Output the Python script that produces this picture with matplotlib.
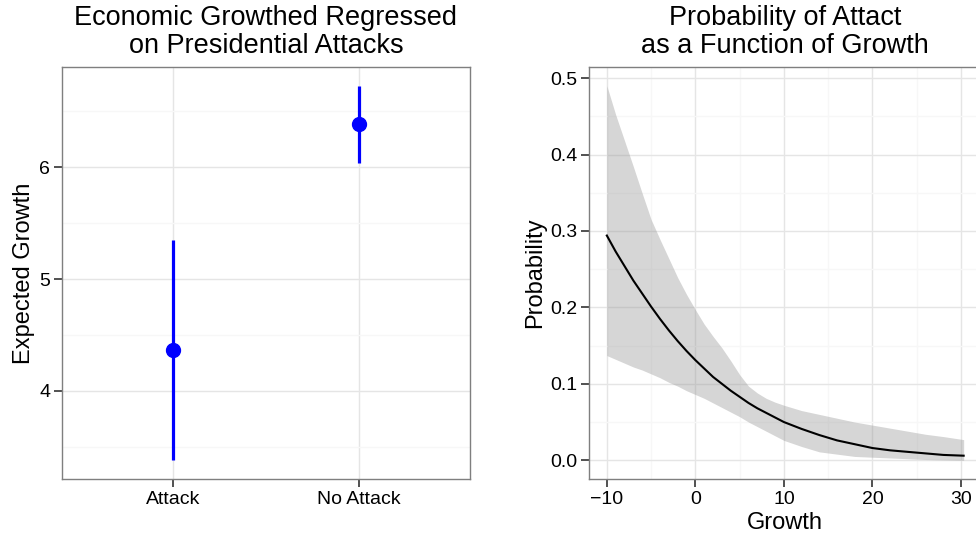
import matplotlib
matplotlib.use("Agg")
import matplotlib.pyplot as plt
from matplotlib.ticker import MultipleLocator, FixedLocator

plt.rcParams['font.family'] = ['Liberation Sans', 'DejaVu Sans']

# left panel: expected growth by attack status
groups = ["Attack", "No Attack"]
growth_mean = [4.37, 6.39]
growth_lo = [3.38, 6.04]
growth_hi = [5.35, 6.73]

# right panel: predicted probability of attack over growth
growth = [-10, -9, -8, -7, -6, -5, -4, -3, -2, -1, 0, 1, 2, 3, 4, 5, 6, 7, 8, 9, 10,
          12, 14, 16, 18, 20, 22, 24, 26, 28, 30.3]
prob = [0.294, 0.273, 0.254, 0.235, 0.218, 0.201, 0.185, 0.170, 0.156, 0.143,
        0.131, 0.120, 0.109, 0.100, 0.091, 0.083, 0.075, 0.068, 0.062, 0.056,
        0.050, 0.041, 0.033, 0.026, 0.021, 0.016, 0.013, 0.011, 0.009, 0.007, 0.006]
prob_lo = [0.137, 0.132, 0.127, 0.122, 0.118, 0.113, 0.108, 0.102, 0.097, 0.091,
           0.086, 0.081, 0.075, 0.069, 0.063, 0.057, 0.050, 0.044, 0.038, 0.032,
           0.026, 0.018, 0.011, 0.008, 0.005, 0.004, 0.003, 0.002, 0.001, 0.0005, 0.000]
prob_hi = [0.490, 0.452, 0.418, 0.384, 0.349, 0.315, 0.289, 0.264, 0.239, 0.217,
           0.197, 0.178, 0.162, 0.147, 0.130, 0.112, 0.097, 0.088, 0.081, 0.076,
           0.072, 0.065, 0.060, 0.055, 0.050, 0.046, 0.042, 0.038, 0.034, 0.031, 0.027]

W, H = 976, 539
fig = plt.figure(figsize=(W / 100, H / 100), dpi=100)

def px_axes(x0, x1, y0, y1):
    return fig.add_axes([x0 / W, 1 - y1 / H, (x1 - x0) / W, (y1 - y0) / H])

def bw_style(ax):
    ax.set_facecolor("white")
    for s in ax.spines.values():
        s.set_color("#7f7f7f")
        s.set_linewidth(1.0)
    ax.grid(which="major", color="#e5e5e5", linewidth=1.0)
    ax.grid(which="minor", color="#f7f7f7", linewidth=1.0)
    ax.set_axisbelow(True)
    ax.tick_params(which="major", length=5.5, width=1.2, color="#333333",
                   labelsize=14, labelcolor="black", pad=3)
    ax.tick_params(which="minor", length=0)

TITLE = dict(fontsize=19.5, linespacing=1.1, pad=10)
LAB = dict(fontsize=17)

# ---- left
ax1 = px_axes(62, 470, 67, 479)
bw_style(ax1)
xpos = list(range(1, len(groups) + 1))
ax1.vlines(xpos, growth_lo, growth_hi, color="#0000ff", linewidth=2.3, zorder=3)
ax1.plot(xpos, growth_mean, "o", color="#0000ff", markersize=10, zorder=4)
ax1.set_xlim(0.4, 2.6)
lo, hi = min(growth_lo), max(growth_hi)
ax1.set_ylim(lo - 0.05 * (hi - lo), hi + 0.05 * (hi - lo))
ax1.set_xticks(xpos)
ax1.set_xticklabels(groups)
ax1.yaxis.set_major_locator(FixedLocator([4, 5, 6]))
ax1.yaxis.set_minor_locator(FixedLocator([3.5, 4.5, 5.5, 6.5]))
ax1.set_ylabel("Expected Growth", labelpad=3, **LAB)
ax1.set_title("Economic Growthed Regressed\non Presidential Attacks", **TITLE)

# ---- right (panel runs past the right edge, as in the original)
ax2 = px_axes(589, 981.5, 67, 479)
bw_style(ax2)
ax2.fill_between(growth, prob_lo, prob_hi, color="#999999", alpha=0.4,
                 linewidth=0, zorder=2)
ax2.plot(growth, prob, color="black", linewidth=1.5, zorder=3)
x_lo, x_hi = min(growth), max(growth)
ax2.set_xlim(x_lo - 0.05 * (x_hi - x_lo), x_hi + 0.05 * (x_hi - x_lo))
y_lo, y_hi = min(prob_lo), max(prob_hi)
ax2.set_ylim(y_lo - 0.05 * (y_hi - y_lo), y_hi + 0.05 * (y_hi - y_lo))
ax2.xaxis.set_major_locator(MultipleLocator(10))
ax2.xaxis.set_minor_locator(MultipleLocator(5))
ax2.yaxis.set_major_locator(MultipleLocator(0.1))
ax2.yaxis.set_minor_locator(MultipleLocator(0.05))
ax2.yaxis.set_major_formatter(lambda v, p: f"{v:.1f}")
ax2.set_xlabel("Growth", labelpad=3, **LAB)
ax2.set_ylabel("Probability", labelpad=3, **LAB)
ax2.set_title("Probability of Attact\nas a Function of Growth", **TITLE)

fig.savefig("out.png", dpi=100)
